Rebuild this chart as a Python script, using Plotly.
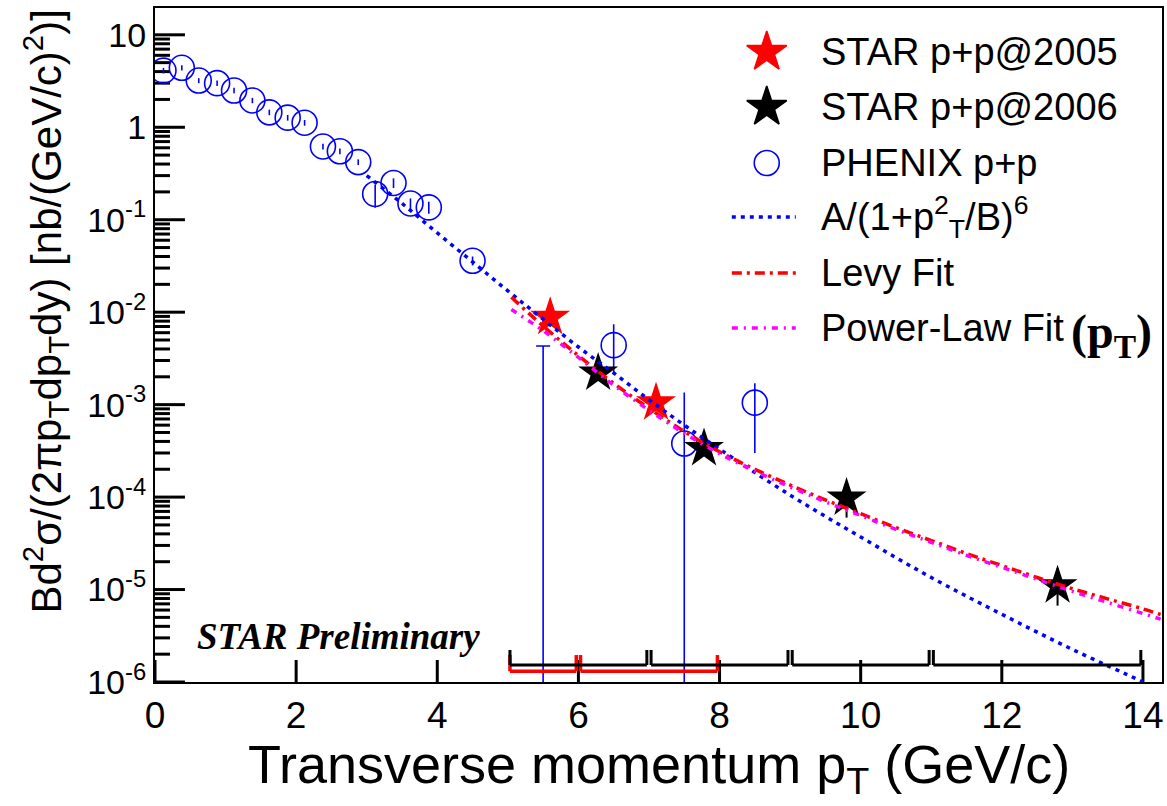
import math
import plotly.graph_objects as go

# ---------------- data ----------------
# PHENIX p+p (open circles)
phenix_pt = [0.12, 0.38, 0.62, 0.88, 1.12, 1.38, 1.62, 1.88, 2.12, 2.38, 2.62, 2.88,
             3.12, 3.38, 3.62, 3.88, 4.5, 6.5, 7.5, 8.5]
phenix_y = [4.1, 4.4, 3.2, 3.0, 2.5, 1.95, 1.45, 1.27, 1.12, 0.62, 0.55, 0.42,
            0.19, 0.25, 0.15, 0.136, 0.036, 4.4e-3, 3.8e-4, 1.05e-3]
phenix_err_up = [0.28, 0.3, 0.2, 0.2, 0.17, 0.13, 0.10, 0.09, 0.08, 0.045, 0.04, 0.03,
                 0.05, 0.03, 0.02, 0.02, 0.004, 3.0e-3, 9.7e-4, 6.5e-4]
phenix_err_dn = [0.28, 0.3, 0.2, 0.2, 0.17, 0.13, 0.10, 0.09, 0.08, 0.045, 0.04, 0.03,
                 0.055, 0.03, 0.02, 0.02, 0.004, 2.3e-3, 3.798e-4, 7.5e-4]
# PHENIX bin whose central value lies below the plotted range (only the upper bar shows)
phenix_low_pt = [5.5]
phenix_low_y = [4e-7]
phenix_low_top = [4.3e-3]

# STAR p+p 2005 / 2006 (stars)
star05_pt = [5.6, 7.1]
star05_y = [8.8e-3, 1.05e-3]
star05_err = [1.0e-3, 1.5e-4]
star06_pt = [6.28, 7.78, 9.8, 12.79]
star06_y = [2.2e-3, 3.35e-4, 9.8e-5, 1.1e-5]
star06_err_up = [2.0e-4, 4.0e-5, 5.0e-5, 6.0e-6]
star06_err_dn = [2.0e-4, 4.0e-5, 3.8e-5, 4.3e-6]

# pT bins of the systematic-uncertainty brackets
star06_bins = [(5, 7), (7, 9), (9, 11), (11, 14)]
star05_bins = [(5, 6), (6, 8)]

# fit curves
fit_a_pt = [3.0, 3.5, 4.0, 4.5, 5.0, 5.5, 6.0, 6.5, 7.0, 7.5, 8.0, 9.0, 10.0, 11.0,
            12.0, 13.0, 14.0, 14.25]
fit_a_y = [0.30, 0.15, 0.072, 0.035, 0.017, 8.4e-3, 4.2e-3, 2.2e-3, 1.13e-3, 6.0e-4,
           3.3e-4, 1.05e-4, 3.7e-5, 1.35e-5, 5.4e-6, 2.25e-6, 1.0e-6, 8.0e-7]
levy_pt = [5.05, 5.5, 6.0, 6.5, 7.0, 7.5, 8.0, 8.5, 9.0, 9.5, 10.0, 10.5, 11.0, 11.5,
           12.0, 12.5, 13.0, 13.5, 14.0, 14.25]
levy_y = [1.45e-2, 7.08e-3, 3.39e-3, 1.70e-3, 9.12e-4, 5.13e-4, 3.09e-4, 2.00e-4,
          1.35e-4, 9.33e-5, 6.61e-5, 4.68e-5, 3.39e-5, 2.45e-5, 1.82e-5, 1.35e-5,
          1.02e-5, 7.94e-6, 6.17e-6, 5.37e-6]
power_pt = levy_pt
power_y = [1.07e-2, 6.31e-3, 3.24e-3, 1.62e-3, 8.71e-4, 4.90e-4, 2.95e-4, 1.91e-4,
           1.29e-4, 8.91e-5, 6.31e-5, 4.47e-5, 3.24e-5, 2.34e-5, 1.74e-5, 1.29e-5,
           9.55e-6, 7.24e-6, 5.50e-6, 4.79e-6]

# axis ticks
x_ticks = [0, 2, 4, 6, 8, 10, 12, 14]
y_exps = [-6, -5, -4, -3, -2, -1, 0, 1]
y_tick_text = ["10<sup>-6</sup>", "10<sup>-5</sup>", "10<sup>-4</sup>", "10<sup>-3</sup>",
               "10<sup>-2</sup>", "10<sup>-1</sup>", "1", "10"]

legend_labels = ["STAR p+p@2005", "STAR p+p@2006", "PHENIX p+p",
                 "A/(1+p<sup>2</sup><sub>T</sub>/B)<sup>6</sup>", "Levy Fit", "Power-Law Fit"]

# ---------------- styles ----------------
BLUE, RED, MAG, BLACK = "#0000ff", "#ff0000", "#ff00ff", "#000000"
SANS = "Liberation Sans"
SERIF = "Liberation Serif"
dash_blue = "4px,5px"
dash_red = "10px,5px,3px,5px"
dash_mag = "6px,6px,2px,6px"
X_RANGE = [0, 14.27]
Y_RANGE = [-6, 1.29]  # log10 units
STAR_SIZE = 30
W, H = 1167, 806
M = dict(l=155, r=3, t=8, b=124)
PLOT_W = W - M["l"] - M["r"]
PLOT_H = H - M["t"] - M["b"]

fig = go.Figure()


# ---------------- inward ROOT-style tick marks ----------------
def px_to_dx(n):
    return n / PLOT_W * (X_RANGE[1] - X_RANGE[0])


def px_above_bottom(n):
    return 10 ** (Y_RANGE[0] + n / PLOT_H * (Y_RANGE[1] - Y_RANGE[0]))


tx, ty = [], []
for t in x_ticks:
    tx += [t, t, None]
    ty += [10 ** Y_RANGE[0], px_above_bottom(22), None]
for e in y_exps:
    tx += [X_RANGE[0], X_RANGE[0] + px_to_dx(30), None]
    ty += [10 ** e, 10 ** e, None]
    for m in range(2, 10):
        v = m * 10 ** e
        if math.log10(v) <= Y_RANGE[1]:
            tx += [X_RANGE[0], X_RANGE[0] + px_to_dx(15), None]
            ty += [v, v, None]
fig.add_trace(go.Scatter(x=tx, y=ty, mode="lines", line=dict(color=BLACK, width=3),
                         hoverinfo="skip", showlegend=False, connectgaps=False))

# PHENIX points
fig.add_trace(go.Scatter(
    x=phenix_pt, y=phenix_y, mode="markers",
    marker=dict(symbol="circle-open", size=25, color=BLUE, line=dict(width=1.6, color=BLUE)),
    error_y=dict(type="data", symmetric=False, array=phenix_err_up, arrayminus=phenix_err_dn,
                 color=BLUE, thickness=1.6, width=0),
    name="PHENIX p+p"))
fig.add_trace(go.Scatter(
    x=phenix_low_pt, y=phenix_low_y, mode="markers",
    marker=dict(symbol="circle-open", size=25, color=BLUE, line=dict(width=1.6, color=BLUE)),
    error_y=dict(type="data", symmetric=False,
                 array=[t - v for t, v in zip(phenix_low_top, phenix_low_y)],
                 arrayminus=[0], color=BLUE, thickness=1.6, width=7),
    showlegend=False))

# STAR points
fig.add_trace(go.Scatter(
    x=star05_pt, y=star05_y, mode="markers",
    marker=dict(symbol="star", size=STAR_SIZE, color=RED),
    error_y=dict(type="data", array=star05_err, color=RED, thickness=2, width=0),
    name="STAR p+p@2005"))
fig.add_trace(go.Scatter(
    x=star06_pt, y=star06_y, mode="markers",
    marker=dict(symbol="star", size=STAR_SIZE, color=BLACK),
    error_y=dict(type="data", symmetric=False, array=star06_err_up, arrayminus=star06_err_dn,
                 color=BLACK, thickness=2, width=0),
    name="STAR p+p@2006"))

# fits
fig.add_trace(go.Scatter(x=fit_a_pt, y=fit_a_y, mode="lines", line_shape="spline",
                         line=dict(color=BLUE, width=3.5, dash=dash_blue), name="A/(1+pT^2/B)^6"))
fig.add_trace(go.Scatter(x=levy_pt, y=levy_y, mode="lines", line_shape="spline",
                         line=dict(color=RED, width=3.5, dash=dash_red), name="Levy Fit"))
fig.add_trace(go.Scatter(x=power_pt, y=power_y, mode="lines", line_shape="spline",
                         line=dict(color=MAG, width=3.5, dash=dash_mag), name="Power-Law Fit"))

# systematic brackets along the bottom of the frame
def bracket(lo, hi, y_low, y_high, color, width):
    inset = 0.03
    a, b = lo + inset, hi - inset
    for x0, y0, x1, y1 in [(a, y_high, a, y_low), (a, y_low, b, y_low), (b, y_low, b, y_high)]:
        fig.add_shape(type="line", xref="x", yref="y domain", x0=x0, x1=x1, y0=y0, y1=y1,
                      line=dict(color=color, width=width), layer="above")

for lo, hi in star05_bins:
    bracket(lo, hi, 0.016, 0.040, RED, 3.5)
for lo, hi in star06_bins:
    bracket(lo, hi, 0.0252, 0.0475, BLACK, 3)

# ---------------- legend (placed in plot-area fractions) ----------------
leg_rows = [0.9347, 0.8531, 0.7700, 0.6899, 0.6068, 0.5252]
leg_sym_x = 0.6075
leg_line_x = [0.5728, 0.6363]
leg_text_x = 0.659


def fx(f):
    return X_RANGE[0] + f * (X_RANGE[1] - X_RANGE[0])


def fy(f):
    return 10 ** (Y_RANGE[0] + f * (Y_RANGE[1] - Y_RANGE[0]))


for row, sym, color, size in [(0, "star", RED, STAR_SIZE), (1, "star", BLACK, STAR_SIZE),
                              (2, "circle-open", BLUE, 25)]:
    fig.add_trace(go.Scatter(x=[fx(leg_sym_x)], y=[fy(leg_rows[row])], mode="markers",
                             marker=dict(symbol=sym, size=size, color=color,
                                         line=dict(width=1.6, color=color)),
                             hoverinfo="skip", showlegend=False))
for row, color, dash in [(3, BLUE, dash_blue), (4, RED, dash_red), (5, MAG, dash_mag)]:
    fig.add_shape(type="line", xref="paper", yref="paper",
                  x0=leg_line_x[0], x1=leg_line_x[1], y0=leg_rows[row], y1=leg_rows[row],
                  line=dict(color=color, width=3.5, dash=dash))

annotations = []
for row, label in zip(leg_rows, legend_labels):
    annotations.append(dict(xref="paper", yref="paper", x=leg_text_x, y=row, text=label,
                            showarrow=False, xanchor="left", yanchor="middle",
                            font=dict(family=SANS, size=38, color=BLACK)))
annotations.append(dict(xref="paper", yref="paper", x=0.9495, y=0.5148,
                        text="<b>(p<sub>T</sub>)</b>", showarrow=False,
                        xanchor="center", yanchor="middle",
                        font=dict(family=SERIF, size=48, color=BLACK)))
annotations.append(dict(xref="paper", yref="paper", x=0.1823, y=0.068,
                        text="<b><i>STAR Preliminary</i></b>", showarrow=False,
                        xanchor="center", yanchor="middle",
                        font=dict(family=SERIF, size=37, color=BLACK)))
# axis titles
annotations.append(dict(xref="paper", yref="paper", x=0.5, y=-0.128,
                        text="Transverse momentum p<sub>T</sub> (GeV/c)", showarrow=False,
                        xanchor="center", yanchor="middle",
                        font=dict(family=SANS, size=54, color=BLACK)))
annotations.append(dict(xref="paper", yref="paper", x=-0.109, y=0.55, textangle=-90,
                        text="Bd<sup>2</sup>σ/(2πp<sub>T</sub>dp<sub>T</sub>dy) [nb/(GeV/c)<sup>2</sup>)]",
                        showarrow=False, xanchor="center", yanchor="middle",
                        font=dict(family=SANS, size=42, color=BLACK)))

fig.update_layout(
    width=W, height=H,
    margin=M,
    paper_bgcolor="white", plot_bgcolor="white",
    showlegend=False,
    font=dict(family=SANS, color=BLACK),
    annotations=annotations,
    xaxis=dict(range=X_RANGE, tickmode="array", tickvals=x_ticks, ticks="",
               showline=True, linewidth=2, linecolor=BLACK,
               mirror=True, showgrid=False, zeroline=False,
               tickfont=dict(size=37, family=SANS)),
    yaxis=dict(type="log", range=Y_RANGE, tickmode="array", tickvals=[10 ** e for e in y_exps],
               ticktext=y_tick_text, ticks="",
               showline=True, linewidth=2, linecolor=BLACK, mirror=True, showgrid=False,
               zeroline=False, tickfont=dict(size=34, family=SANS)),
)

fig.write_html("out.html")
